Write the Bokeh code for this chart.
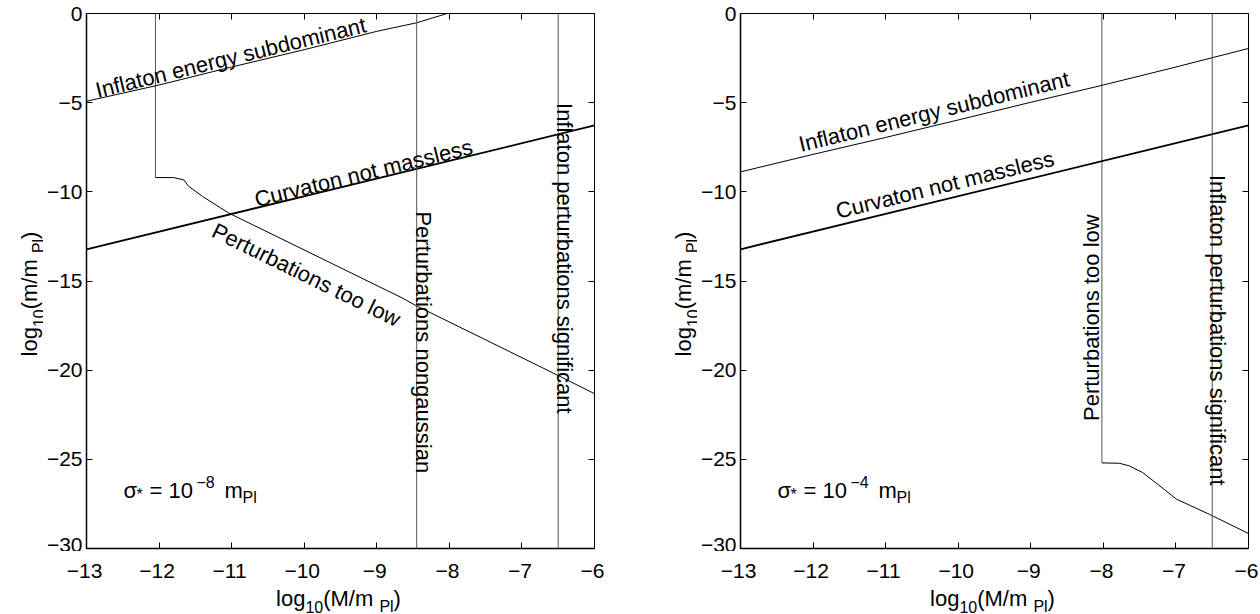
import math
from bokeh.plotting import figure
from bokeh.models import Range1d, FixedTicker, Label, Span, LinearAxis
from bokeh.layouts import row, column
from bokeh.embed import file_html
from bokeh.resources import INLINE

# ---------------- data ----------------
x_ticks = [-13, -12, -11, -10, -9, -8, -7, -6]
x_tick_labels = ["\u221213", "\u221212", "\u221211", "\u221210", "\u22129", "\u22128", "\u22127", "\u22126"]
y_ticks = [0, -5, -10, -15, -20, -25, -30]
y_tick_labels = ["0", "\u22125", "\u221210", "\u221215", "\u221220", "\u221225", "\u221230"]

# curvaton not massless (same in both panels)
curvaton_x = [-13.0, -6.0]
curvaton_y = [-13.22, -6.28]

# left panel: sigma_* = 1e-8 m_Pl
energy_x_a = [-13.0, -12.0, -11.0, -10.0, -9.0, -8.45, -8.03]
energy_y_a = [-4.92, -4.01, -3.0, -2.03, -1.0, -0.52, 0.0]
low_x_a = [-12.05, -11.8, -11.66, -11.59, -11.4, -11.04, -10.03, -8.65, -8.45, -6.5, -6.0]
low_y_a = [-9.2, -9.2, -9.33, -9.7, -10.26, -11.19, -13.2, -15.95, -16.4, -20.3, -21.32]
nongauss_x_a = [-8.45]
inflaton_pert_x_a = [-6.5]

# right panel: sigma_* = 1e-4 m_Pl
energy_x_b = [-13.0, -12.0, -11.0, -10.0, -9.0, -8.0, -7.0, -6.5, -6.0]
energy_y_b = [-8.88, -7.9, -6.95, -5.97, -4.98, -4.01, -3.0, -2.48, -1.96]
low_x_b = [-8.02, -7.78, -7.64, -7.46, -7.25, -6.99, -6.54, -6.0]
low_y_b = [-25.2, -25.22, -25.37, -25.74, -26.4, -27.24, -28.08, -29.16]
nongauss_x_b = []
inflaton_pert_x_b = [-6.5]

X_RANGE = (-13, -6)
Y_RANGE = (-30, 0)

# ---------------- style ----------------
FONT = "Liberation Sans"
FRAME_W = 508
FRAME_H = 535
B_TOP = 13
B_BOTTOM = 3
B_LEFT = 41
YLAB_W = 43
XAX_TOP = 26
XLAB_H = 36
TXT = 22
TICK_FS = "21px"
VLINE_COLOR = "#555555"

# Arial / Liberation Sans advance widths (em)
W = {"l": .222, "o": .556, "g": .556, "1": .556, "0": .556, "(": .333, ")": .333,
     "M": .833, "/": .278, "m": .833, "P": .667, " ": .278, "=": .584,
     "\u2212": .584, "8": .556, "4": .556, "*": .389, "\u03c3": .6}


def tw(s, size):
    return sum(W.get(c, 0.556) for c in s) * size


def clean(f):
    f.outline_line_color = None
    f.background_fill_color = "white"
    f.border_fill_color = "white"
    for g in f.grid:
        g.visible = False


def run_labels(p, x, y, runs, vertical=False):
    total = sum(tw(t, s) for t, s, _ in runs)
    pos = -total / 2
    for t, s, sh in runs:
        if not vertical:
            xo, yo, ang = pos, sh, 0.0
        else:
            xo, yo, ang = -sh, pos, math.pi / 2
        p.add_layout(Label(x=x, y=y, x_offset=xo, y_offset=yo, text=t, angle=ang,
                           text_font=FONT, text_font_size=f"{s}px", text_color="black",
                           text_align="left", text_baseline="alphabetic"))
        pos += tw(t, s)


def style_ticks(ax, ticks, labels):
    ax.ticker = FixedTicker(ticks=ticks)
    ax.major_label_overrides = {t: lab for t, lab in zip(ticks, labels)}
    ax.minor_tick_line_color = None
    ax.major_label_text_font = FONT
    ax.major_label_text_font_size = TICK_FS
    ax.major_label_text_color = "black"


def make_panel(energy_x, energy_y, low_x, low_y, nongauss_x, pert_x, texts, sigma_exp, border_right):
    p = figure(x_range=Range1d(*X_RANGE), y_range=Range1d(*Y_RANGE),
               frame_width=FRAME_W, frame_height=FRAME_H,
               min_border_left=B_LEFT, min_border_right=border_right,
               min_border_top=B_TOP, min_border_bottom=B_BOTTOM,
               toolbar_location=None, output_backend="svg")
    clean(p)

    # left axis with labels
    ya = p.yaxis[0]
    style_ticks(ya, y_ticks, y_tick_labels)
    ya.major_tick_in = 6
    ya.major_tick_out = 0
    ya.axis_line_width = 1.5
    ya.axis_line_color = "black"
    ya.major_tick_line_color = "black"
    ya.major_label_standoff = 4

    # bottom axis: line + ticks only (labels drawn by the axis strip below)
    xa = p.xaxis[0]
    xa.ticker = FixedTicker(ticks=x_ticks)
    xa.major_label_overrides = {t: "" for t in x_ticks}
    xa.major_label_text_font_size = "1px"
    xa.major_label_standoff = 0
    xa.major_tick_in = 6
    xa.major_tick_out = 0
    xa.minor_tick_line_color = None
    xa.axis_line_width = 1.5
    xa.axis_line_color = "black"
    xa.major_tick_line_color = "black"

    for loc, ticks in (("above", x_ticks), ("right", y_ticks)):
        ax = LinearAxis(ticker=FixedTicker(ticks=ticks),
                        major_label_overrides={t: "" for t in ticks},
                        major_label_text_font_size="1px",
                        major_label_standoff=0, major_tick_in=6, major_tick_out=0,
                        minor_tick_line_color=None, axis_line_width=1,
                        axis_line_color="black", major_tick_line_color="black")
        p.add_layout(ax, loc)

    # vertical constraint lines
    for xv in list(nongauss_x) + list(pert_x):
        p.add_layout(Span(location=xv, dimension="height", line_color=VLINE_COLOR, line_width=1))
    # vertical part of "perturbations too low"
    p.line([low_x[0], low_x[0]], [Y_RANGE[1], low_y[0]], line_color=VLINE_COLOR, line_width=1)

    p.line(energy_x, energy_y, line_color="black", line_width=1)
    p.line(curvaton_x, curvaton_y, line_color="black", line_width=1.8)
    p.line(low_x, low_y, line_color="black", line_width=1)

    for txt, x, y, ang in texts:
        p.add_layout(Label(x=x, y=y, text=txt, angle=ang, text_font=FONT,
                           text_font_size=f"{TXT}px", text_color="black",
                           text_align="left", text_baseline="alphabetic"))

    # sigma annotation
    xm, y0 = X_RANGE[0], Y_RANGE[0]
    for t, s, xo, yo in (("\u03c3", 22, 37, 58), ("*", 16, 50, 54), ("= 10", 22, 63, 58),
                         ("\u2212" + sigma_exp, 16, 110, 67), ("m", 22, 138, 58), ("Pl", 16, 156, 51)):
        p.add_layout(Label(x=xm, y=y0, x_offset=xo, y_offset=yo, text=t, text_font=FONT,
                           text_font_size=f"{s}px", text_color="black",
                           text_align="left", text_baseline="alphabetic"))
    return p


def panel_column(p, border_right):
    ph = B_TOP + FRAME_H + B_BOTTOM
    # y label strip
    ylab = figure(x_range=Range1d(0, YLAB_W), y_range=Range1d(0, ph), frame_width=YLAB_W, frame_height=ph,
                  min_border=0, x_axis_location=None, y_axis_location=None,
                  toolbar_location=None, output_backend="svg")
    clean(ylab)
    run_labels(ylab, 29, ph - (B_TOP + FRAME_H / 2),
               [("log", 22, 0), ("10", 16, -9), ("(m/m ", 22, 0), ("Pl", 16, -9), (")", 22, 0)],
               vertical=True)
    # x tick labels + x label strip
    xlab = figure(x_range=Range1d(*X_RANGE), y_range=Range1d(0, XLAB_H),
                  frame_width=FRAME_W, frame_height=XLAB_H,
                  min_border_left=YLAB_W + B_LEFT, min_border_right=border_right,
                  min_border_top=XAX_TOP, min_border_bottom=0,
                  x_axis_location="above", y_axis_location=None,
                  toolbar_location=None, output_backend="svg")
    clean(xlab)
    xt = xlab.xaxis[0]
    style_ticks(xt, x_ticks, x_tick_labels)
    xt.axis_line_color = None
    xt.major_tick_line_color = None
    xt.major_tick_in = 0
    xt.major_tick_out = 0
    xt.major_label_standoff = 0
    run_labels(xlab, (X_RANGE[0] + X_RANGE[1]) / 2, 15,
               [("log", 22, 0), ("10", 16, -8), ("(M/m ", 22, 0), ("Pl", 16, -8), (")", 22, 0)])
    return column(row(ylab, p), xlab)


ang_up = math.atan((FRAME_H / 30) / (FRAME_W / 7))
ang_down = -math.atan(2 * (FRAME_H / 30) / (FRAME_W / 7))

texts_a = [
    ("Inflaton energy subdominant", -12.87, -4.33, ang_up),
    ("Curvaton not massless", -10.68, -10.45, ang_up),
    ("Perturbations too low", -11.25, -12.1, ang_down),
    ("Perturbations nongaussian", -8.355, -11.1, -math.pi / 2),
    ("Inflaton perturbations significant", -6.41, -5.02, -math.pi / 2),
]
texts_b = [
    ("Inflaton energy subdominant", -12.19, -7.36, ang_up),
    ("Curvaton not massless", -11.68, -11.1, ang_up),
    ("Perturbations too low", -8.163, -22.85, math.pi / 2),
    ("Inflaton perturbations significant", -6.43, -9.05, -math.pi / 2),
]

R_A, R_B = 60, 14
p1 = make_panel(energy_x_a, energy_y_a, low_x_a, low_y_a, nongauss_x_a, inflaton_pert_x_a,
                texts_a, "8", R_A)
p2 = make_panel(energy_x_b, energy_y_b, low_x_b, low_y_b, nongauss_x_b, inflaton_pert_x_b,
                texts_b, "4", R_B)

layout = row(panel_column(p1, R_A), panel_column(p2, R_B))
open("out.html", "w").write(file_html(layout, INLINE))
